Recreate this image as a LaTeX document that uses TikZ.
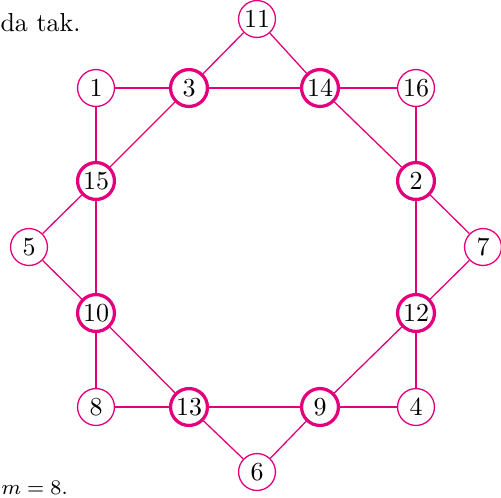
\documentclass[tikz,border=0pt]{standalone}
\definecolor{mag}{RGB}{228,0,124}

\begin{document}
\begin{tikzpicture}[x=0.385pt,y=-0.385pt,
    knoten/.style={circle,draw=mag,line width=0.5pt,fill=white,
        minimum size=14.2pt,inner sep=0pt},
    dick/.style={line width=1.25pt},
    kante/.style={mag,line width=0.5pt}]
                \useasboundingbox (0,0) rectangle (501,497);

                % Text am Rand
                \node[anchor=base west,inner sep=0pt] (oben) at (0,31) {da tak.};
                \node[anchor=base west,inner sep=0pt] (unten) at (1,494)
                    {\footnotesize $m = 8.$};

                % einfache Knoten
                \foreach \n/\x/\y in {1/96/88, 16/416/88, 11/257/19, 5/29/247,
                        7/483/247, 8/96/407, 4/416/407, 6/257/472} {
                    \node[knoten] (k\n) at (\x,\y) {\n};
                }
                % Knoten des Achtecks (dick)
                \foreach \n/\x/\y in {3/189/88, 14/320/88, 15/96/181, 2/416/181,
                        10/96/313, 12/416/313, 13/189/407, 9/320/407} {
                    \node[knoten,dick] (k\n) at (\x,\y) {\n};
                }

                % Kanten
                \foreach \a/\b in {1/3, 3/14, 14/16, 3/11, 11/14, 1/15, 3/15,
                        14/2, 16/2, 15/5, 5/10, 15/10, 2/7, 7/12, 2/12, 10/8,
                        10/13, 12/9, 12/4, 8/13, 13/9, 9/4, 13/6, 6/9} {
                    \draw[kante] (k\a) -- (k\b);
                }
            \end{tikzpicture}
\end{document}
